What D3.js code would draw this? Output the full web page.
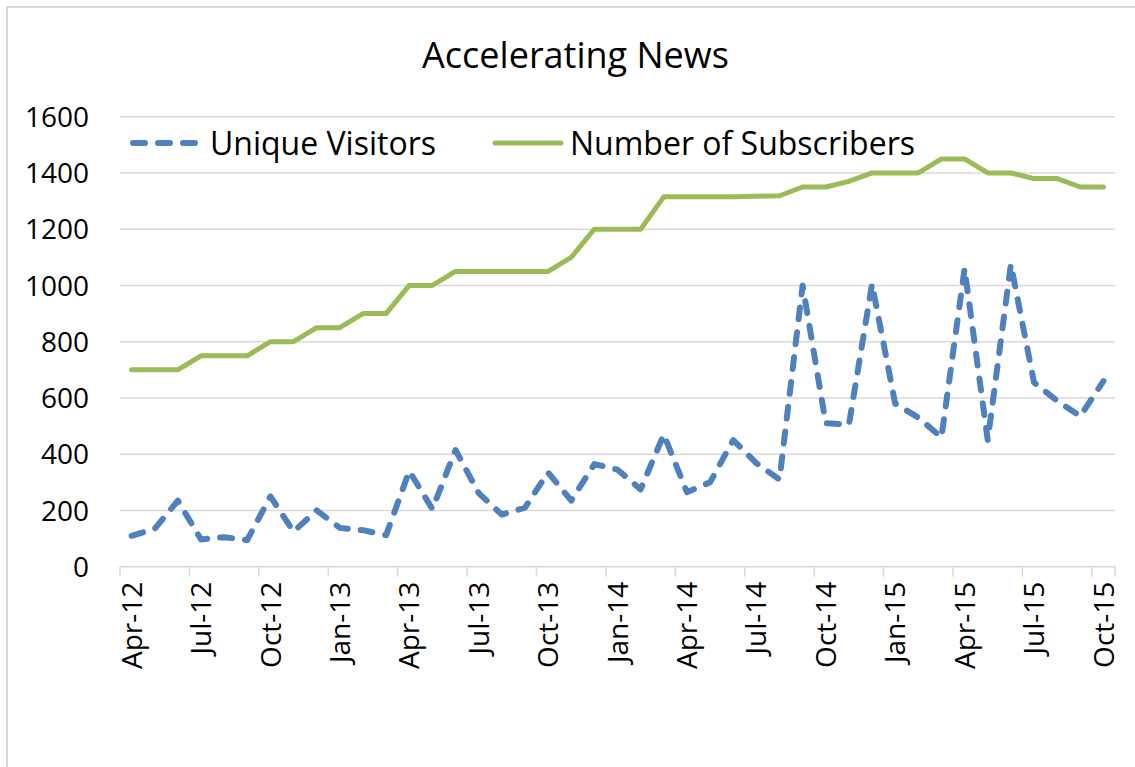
<!DOCTYPE html>
<html>
<head>
<meta charset="utf-8">
<script src="https://cdn.jsdelivr.net/npm/d3@7"></script>
<style>
  html, body { margin: 0; padding: 0; background: #ffffff; }
  svg { display: block; }
  text { font-family: "Open Sans", "Noto Sans", sans-serif; fill: #000; }
</style>
</head>
<body>
<svg id="chart" width="1135" height="767"></svg>
<script>
// Monthly periods, April 2012 through October 2015
const months = [
  "2012-04","2012-05","2012-06","2012-07","2012-08","2012-09","2012-10","2012-11","2012-12",
  "2013-01","2013-02","2013-03","2013-04","2013-05","2013-06","2013-07","2013-08","2013-09",
  "2013-10","2013-11","2013-12","2014-01","2014-02","2014-03","2014-04","2014-05","2014-06",
  "2014-07","2014-08","2014-09","2014-10","2014-11","2014-12","2015-01","2015-02","2015-03",
  "2015-04","2015-05","2015-06","2015-07","2015-08","2015-09","2015-10"
];

const uniqueVisitors = [
  110, 135, 235, 97, 105, 95, 250, 125, 200, 138, 130, 112,
  340, 205, 415, 262, 185, 210, 335, 235, 365, 345, 275, 470,
  265, 300, 450, 368, 310, 1000, 510, 505, 1005, 580, 530, 460,
  1060, 450, 1075, 655, 590, 535, 660
];

const subscribers = [
  700, 700, 700, 750, 750, 750, 800, 800, 850, 850, 900, 900,
  1000, 1000, 1050, 1050, 1050, 1050, 1050, 1100, 1200, 1200, 1200, 1315,
  1315, 1315, 1315, 1317, 1319, 1350, 1350, 1370, 1400, 1400, 1400, 1450,
  1450, 1400, 1400, 1380, 1380, 1350, 1350
];

const yTicks = [0, 200, 400, 600, 800, 1000, 1200, 1400, 1600];

const seriesNames = ["Unique Visitors", "Number of Subscribers"];
const seriesColors = ["#4F81BD", "#9BBB59"];

const title = "Accelerating News";

// ---- layout ----
const svg = d3.select("#chart");
const plot = { left: 120, right: 1115, top: 116.7, bottom: 566.7 };

const parseMonth = d3.timeParse("%Y-%m");
const fmtMonth = d3.timeFormat("%b-%y");

const x = d3.scaleBand().domain(months).range([plot.left, plot.right]).padding(0);
const y = d3.scaleLinear().domain([0, 1600]).range([plot.bottom, plot.top]);
const cx = m => x(m) + x.bandwidth() / 2;

// chart frame
svg.append("path")
  .attr("d", `M7,767 L7,7 L1135,7`)
  .attr("fill", "none")
  .attr("stroke", "#d9d9d9")
  .attr("stroke-width", 2);

// title
svg.append("text")
  .attr("x", 575.5)
  .attr("y", 68)
  .attr("text-anchor", "middle")
  .style("font-size", "36px")
  .text(title);

// horizontal gridlines
svg.append("g").selectAll("line")
  .data(yTicks)
  .join("line")
  .attr("x1", plot.left)
  .attr("x2", plot.right)
  .attr("y1", d => y(d))
  .attr("y2", d => y(d))
  .attr("stroke", "#d9d9d9")
  .attr("stroke-width", 1.5);

// y labels
svg.append("g").selectAll("text")
  .data(yTicks)
  .join("text")
  .attr("x", 89)
  .attr("y", d => y(d))
  .attr("dy", "0.36em")
  .attr("text-anchor", "end")
  .style("font-size", "28px")
  .text(d => d);

// x tick marks at quarter boundaries
const quarterMonths = months.filter((m, i) => i % 3 === 0);
svg.append("g").selectAll("line")
  .data(quarterMonths)
  .join("line")
  .attr("x1", d => x(d))
  .attr("x2", d => x(d))
  .attr("y1", plot.bottom)
  .attr("y2", plot.bottom + 10)
  .attr("stroke", "#d9d9d9")
  .attr("stroke-width", 1.5);
svg.append("line")
  .attr("x1", plot.right).attr("x2", plot.right)
  .attr("y1", plot.bottom).attr("y2", plot.bottom + 10)
  .attr("stroke", "#d9d9d9").attr("stroke-width", 1.5);

// x labels, rotated
svg.append("g").selectAll("text")
  .data(quarterMonths)
  .join("text")
  .attr("transform", d => `translate(${cx(d)},${plot.bottom + 15}) rotate(-90)`)
  .attr("dy", "0.36em")
  .attr("text-anchor", "end")
  .style("font-size", "28px")
  .text(d => fmtMonth(parseMonth(d)));

// series lines
const line = d3.line().x((d, i) => cx(months[i])).y(d => y(d));

svg.append("path")
  .datum(subscribers)
  .attr("d", line)
  .attr("fill", "none")
  .attr("stroke", seriesColors[1])
  .attr("stroke-width", 5)
  .attr("stroke-linejoin", "round")
  .attr("stroke-linecap", "round");

svg.append("path")
  .datum(uniqueVisitors)
  .attr("d", line)
  .attr("fill", "none")
  .attr("stroke", seriesColors[0])
  .attr("stroke-width", 6)
  .attr("stroke-dasharray", "12,13")
  .attr("stroke-linejoin", "round")
  .attr("stroke-linecap", "round");

// legend
const legend = svg.append("g");
const legendItems = [
  { name: seriesNames[0], color: seriesColors[0], x0: 133, x1: 200, tx: 210, dash: "12,13", w: 6 },
  { name: seriesNames[1], color: seriesColors[1], x0: 495, x1: 561, tx: 570, dash: null, w: 5 }
];
legendItems.forEach(it => {
  legend.append("line")
    .attr("x1", it.x0).attr("x2", it.x1)
    .attr("y1", 143).attr("y2", 143)
    .attr("stroke", it.color)
    .attr("stroke-width", it.w)
    .attr("stroke-linecap", "round")
    .attr("stroke-dasharray", it.dash);
  legend.append("text")
    .attr("x", it.tx)
    .attr("y", 143)
    .attr("dy", "0.36em")
    .style("font-size", "32px")
    .text(it.name);
});
</script>
</body>
</html>
